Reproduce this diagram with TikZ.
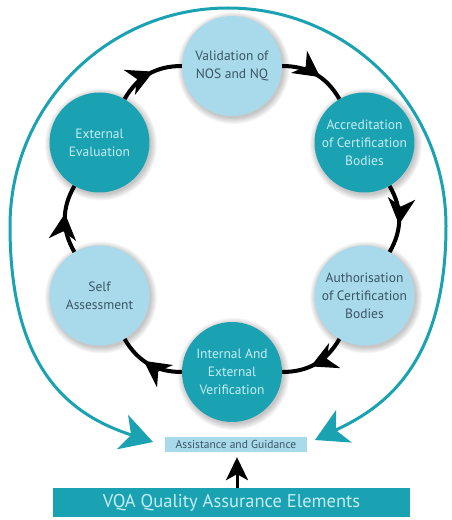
\documentclass[tikz,border=0pt]{standalone}
\usepackage{fontspec}
\setmainfont{PT Sans}
\usetikzlibrary{arrows.meta,decorations.markings,calc}
\definecolor{teal1}{HTML}{1AA2B2}
\definecolor{lblue}{HTML}{A9DAEB}
\definecolor{darktxt}{HTML}{3A5566}
\definecolor{lighttxt}{HTML}{C4EDF3}
\tikzset{
  x=1pt,y=1pt,
  lightc/.style={circle,fill=lblue,minimum size=100pt,inner sep=0pt,align=center,
    text=darktxt,font=\fontsize{13.5}{18}\selectfont},
  tealc/.style={circle,fill=teal1,minimum size=100pt,inner sep=0pt,align=center,
    text=lighttxt,font=\fontsize{13.5}{18}\selectfont},
  cyc/.style={line width=4pt,black,bend left=30,postaction={decorate},
    decoration={markings,mark=at position 0.58 with {\arrow{Stealth[length=26pt,width=27pt,inset=8pt]}}}},
  bigarrow/.style={teal1,line width=3pt,{Stealth[length=32pt,width=36pt,inset=9pt]}-{Stealth[length=32pt,width=36pt,inset=9pt]}},
}
\begin{document}
\begin{tikzpicture}
\useasboundingbox (0,0) rectangle (451,520);
% ring positions
\coordinate (ctr) at (232,301);
\foreach \n/\a in {pv/90,pa/30,pau/-30,pi/-90,ps/-150,pe/150}{
  \coordinate (\n) at ($(ctr)+(\a:153)$);
}
% soft shadows
\foreach \n in {pv,pa,pau,pi,ps,pe}{
  \foreach \r in {1,2,...,7}{
    \fill[black,opacity=0.035] ($(\n)+(1.5,-2)$) circle (49+\r);
  }
}
\coordinate (tl) at (153,78);
\coordinate (tr) at (315,80);
% nodes
\node[lightc] (V) at (pv) {Validation of\\NOS and NQ};
\node[tealc] (A) at (pa) {Accreditation\\of Certification\\Bodies};
\node[lightc] (Au) at (pau) {Authorisation\\of Certification\\Bodies};
\node[tealc] (I) at (pi) {Internal And\\External\\Verification};
\node[lightc] (S) at (ps) {Self\\Assessment};
\node[tealc] (E) at (pe) {External\\Evaluation};
\node[fill=lblue,minimum width=142pt,minimum height=15pt,inner sep=0pt,text=darktxt,
  font=\fontsize{11.5}{12}\selectfont] (G) at (236,75.5) {Assistance and Guidance};
\node[fill=teal1,minimum width=357pt,minimum height=29pt,inner sep=0pt,text=lighttxt,
  font=\fontsize{18.5}{20}\selectfont] (Q) at (231.5,17.5) {VQA Quality Assurance Elements};
% cycle arrows
\draw[cyc] (V) to (A);
\draw[cyc] (A) to (Au);
\draw[cyc] (Au) to (I);
\draw[cyc] (I) to (S);
\draw[cyc] (S) to (E);
\draw[cyc] (E) to (V);
% bottom arrow
\draw[line width=3pt,-{Stealth[length=23pt,width=22pt,inset=6pt]},shorten >=5pt] (Q.north -| 237,0) -- (G.south -| 237,0);
% outer teal curve
\draw[bigarrow] (tl) .. controls (70,105) and (10,150) .. (10,294)
  arc[start angle=180,end angle=0,radius=218]
  .. controls (446,150) and (378,110) .. (tr);
\end{tikzpicture}
\end{document}
